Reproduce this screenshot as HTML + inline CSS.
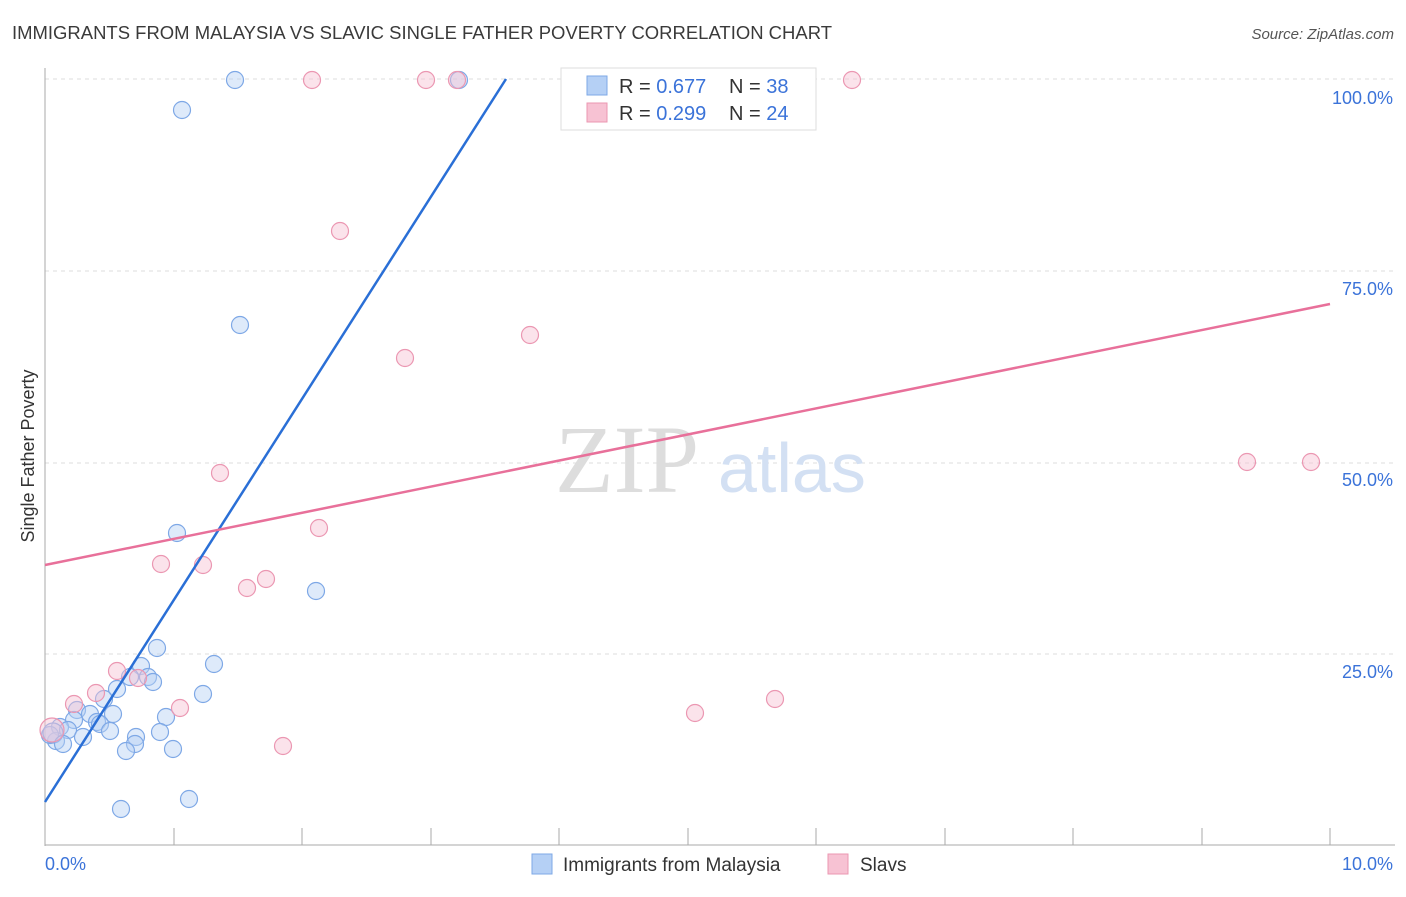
<!DOCTYPE html>
<html><head><style>
body{margin:0;background:#fff;font-family:"Liberation Sans",sans-serif;}
</style></head><body>
<svg width="1406" height="892" xmlns="http://www.w3.org/2000/svg" font-family="Liberation Sans, sans-serif">
<text x="12" y="39" font-size="18" fill="#3a3a3a" textLength="820" lengthAdjust="spacingAndGlyphs">IMMIGRANTS FROM MALAYSIA VS SLAVIC SINGLE FATHER POVERTY CORRELATION CHART</text>
<text x="1394" y="39" font-size="15" fill="#555" text-anchor="end" font-style="italic">Source: ZipAtlas.com</text>
<g stroke="#ddd" stroke-dasharray="4,4">
<line x1="45" y1="79" x2="1395" y2="79"/><line x1="45" y1="271" x2="1395" y2="271"/>
<line x1="45" y1="463" x2="1395" y2="463"/><line x1="45" y1="654" x2="1395" y2="654"/>
</g>
<line x1="45" y1="68" x2="45" y2="846" stroke="#aaa"/>
<line x1="45" y1="845" x2="1395" y2="845" stroke="#aaa"/>
<g stroke="#aaa">
<line x1="174" y1="828" x2="174" y2="845"/><line x1="302" y1="828" x2="302" y2="845"/><line x1="431" y1="828" x2="431" y2="845"/><line x1="559" y1="828" x2="559" y2="845"/><line x1="688" y1="828" x2="688" y2="845"/><line x1="816" y1="828" x2="816" y2="845"/><line x1="945" y1="828" x2="945" y2="845"/><line x1="1073" y1="828" x2="1073" y2="845"/><line x1="1202" y1="828" x2="1202" y2="845"/><line x1="1330" y1="828" x2="1330" y2="845"/>
</g>
<g font-size="18" fill="#3b73d9" text-anchor="end">
<text x="1393" y="104">100.0%</text><text x="1393" y="295">75.0%</text><text x="1393" y="486">50.0%</text><text x="1393" y="678">25.0%</text>
</g>
<text x="45" y="870" font-size="18" fill="#3b73d9">0.0%</text>
<text x="1393" y="870" font-size="18" fill="#3b73d9" text-anchor="end">10.0%</text>
<text x="34" y="456" font-size="18" fill="#333" transform="rotate(-90 34 456)" text-anchor="middle">Single Father Poverty</text>
<text x="555" y="492" font-size="96" fill="#ddd" font-family="Liberation Serif, serif">ZIP</text>
<text x="718" y="492" font-size="70" fill="#d3e0f3">atlas</text>
<g fill="#b5d0f5" fill-opacity="0.45" stroke="#7ea8e6" stroke-width="1.2">
<circle cx="235" cy="80" r="8.5"/><circle cx="182" cy="110" r="8.5"/><circle cx="459" cy="80" r="8.5"/><circle cx="240" cy="325" r="8.5"/><circle cx="177" cy="533" r="8.5"/><circle cx="316" cy="591" r="8.5"/><circle cx="157" cy="648" r="8.5"/><circle cx="214" cy="664" r="8.5"/><circle cx="141" cy="666" r="8.5"/><circle cx="148" cy="677" r="8.5"/><circle cx="153" cy="682" r="8.5"/><circle cx="130" cy="677" r="8.5"/><circle cx="117" cy="689" r="8.5"/><circle cx="203" cy="694" r="8.5"/><circle cx="104" cy="699" r="8.5"/><circle cx="77" cy="710" r="8.5"/><circle cx="90" cy="714" r="8.5"/><circle cx="113" cy="714" r="8.5"/><circle cx="166" cy="717" r="8.5"/><circle cx="74" cy="720" r="8.5"/><circle cx="97" cy="722" r="8.5"/><circle cx="100" cy="724" r="8.5"/><circle cx="60" cy="727" r="8.5"/><circle cx="68" cy="730" r="8.5"/><circle cx="110" cy="731" r="8.5"/><circle cx="160" cy="732" r="8.5"/><circle cx="83" cy="737" r="8.5"/><circle cx="136" cy="737" r="8.5"/><circle cx="56" cy="741" r="8.5"/><circle cx="50" cy="735" r="8.5"/><circle cx="135" cy="744" r="8.5"/><circle cx="126" cy="751" r="8.5"/><circle cx="173" cy="749" r="8.5"/><circle cx="189" cy="799" r="8.5"/><circle cx="121" cy="809" r="8.5"/><circle cx="53" cy="733" r="10"/><circle cx="63" cy="744" r="8.5"/>
</g>
<g fill="#f7c2d3" fill-opacity="0.45" stroke="#eb97b2" stroke-width="1.2">
<circle cx="312" cy="80" r="8.5"/><circle cx="426" cy="80" r="8.5"/><circle cx="457" cy="80" r="8.5"/><circle cx="852" cy="80" r="8.5"/><circle cx="340" cy="231" r="8.5"/><circle cx="405" cy="358" r="8.5"/><circle cx="530" cy="335" r="8.5"/><circle cx="220" cy="473" r="8.5"/><circle cx="1247" cy="462" r="8.5"/><circle cx="1311" cy="462" r="8.5"/><circle cx="319" cy="528" r="8.5"/><circle cx="161" cy="564" r="8.5"/><circle cx="203" cy="565" r="8.5"/><circle cx="266" cy="579" r="8.5"/><circle cx="247" cy="588" r="8.5"/><circle cx="117" cy="671" r="8.5"/><circle cx="138" cy="678" r="8.5"/><circle cx="96" cy="693" r="8.5"/><circle cx="74" cy="704" r="8.5"/><circle cx="180" cy="708" r="8.5"/><circle cx="695" cy="713" r="8.5"/><circle cx="775" cy="699" r="8.5"/><circle cx="283" cy="746" r="8.5"/><circle cx="52" cy="730" r="12"/>
</g>
<line x1="45" y1="802" x2="506" y2="79" stroke="#2a6fd6" stroke-width="2.5"/>
<line x1="45" y1="565" x2="1330" y2="304" stroke="#e8709a" stroke-width="2.5"/>
<rect x="561" y="68" width="255" height="62" fill="#fff" stroke="#ddd"/>
<rect x="587" y="76" width="20" height="19" fill="#b5d0f5" stroke="#7ea8e6"/>
<rect x="587" y="103" width="20" height="19" fill="#f7c2d3" stroke="#eb97b2"/>
<g font-size="20">
<text x="619" y="93" fill="#333">R = <tspan fill="#3b73d9">0.677</tspan></text>
<text x="729" y="93" fill="#333">N = <tspan fill="#3b73d9">38</tspan></text>
<text x="619" y="120" fill="#333">R = <tspan fill="#3b73d9">0.299</tspan></text>
<text x="729" y="120" fill="#333">N = <tspan fill="#3b73d9">24</tspan></text>
</g>
<rect x="532" y="854" width="20" height="20" fill="#b5d0f5" stroke="#7ea8e6"/>
<text x="563" y="871" font-size="19" fill="#333">Immigrants from Malaysia</text>
<rect x="828" y="854" width="20" height="20" fill="#f7c2d3" stroke="#eb97b2"/>
<text x="860" y="871" font-size="19" fill="#333">Slavs</text>
</svg>
</body></html>
